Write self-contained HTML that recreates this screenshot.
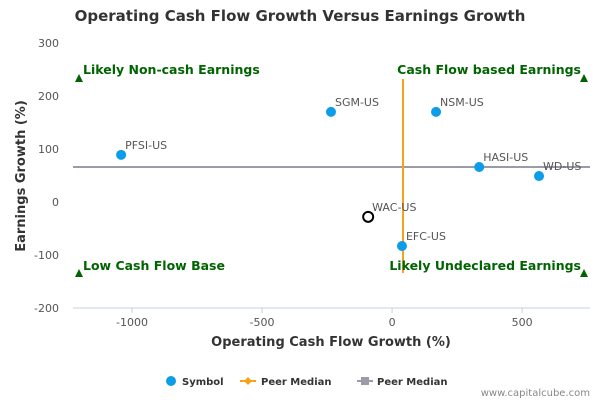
<!DOCTYPE html>
<html><head><meta charset="utf-8"><style>
body{margin:0;background:#fff;}
svg{display:block;font-family:"DejaVu Sans","Liberation Sans",sans-serif;}
</style></head><body>
<svg id="chart" width="600" height="400"></svg>
<script>
const names=["PFSI-US","SGM-US","NSM-US","HASI-US","WD-US","WAC-US","EFC-US"];
const xVals=[-1042,-235,169,335,565,-92,38];
const yVals=[89,170,170,66,49,-28,-83];
const highlight=[false,false,false,false,false,true,false];
const medianX=42;
const medianY=66;
const xTicks=[-1000,-500,0,500];
const yTicks=[300,200,100,0,-100,-200];
const NS="http://www.w3.org/2000/svg";
const svg=document.getElementById('chart');
const L=73,R=590,T=43,B=308;
const xMin=-1227,xMax=761,yMin=-200,yMax=300;
const sx=v=>L+(v-xMin)/(xMax-xMin)*(R-L);
const sy=v=>B-(v-yMin)/(yMax-yMin)*(B-T);
function mk(tag,attrs,name,text){const e=document.createElementNS(NS,tag);for(const k in attrs)e.setAttribute(k,attrs[k]);


if(text!==undefined)e.textContent=text;svg.appendChild(e);return e;}
mk('text',{x:300,y:21,'text-anchor':'middle','font-size':15,'font-weight':'bold',fill:'#333'},'chart-title','Operating Cash Flow Growth Versus Earnings Growth');
mk('line',{x1:L,y1:B,x2:R,y2:B,stroke:'#c0d0e0'},'x-axis-line');
xTicks.forEach(t=>{mk('line',{x1:sx(t),y1:B,x2:sx(t),y2:B+5,stroke:'#c0d0e0'},'x-tick');
mk('text',{x:sx(t),y:B+18,'text-anchor':'middle','font-size':11,fill:'#555'},'x-tick-label',String(t));});
yTicks.forEach(t=>{mk('text',{x:L-14,y:sy(t)+4,'text-anchor':'end','font-size':11,fill:'#555'},'y-tick-label',String(t));});
mk('text',{x:331,y:346,'text-anchor':'middle','font-size':13,'font-weight':'bold',fill:'#333'},'x-axis-title','Operating Cash Flow Growth (%)');
mk('text',{x:25,y:176,'text-anchor':'middle','font-size':13,'font-weight':'bold',fill:'#333',transform:'rotate(-90 25 176)'},'y-axis-title','Earnings Growth (%)');
mk('line',{x1:L,y1:sy(medianY),x2:R,y2:sy(medianY),stroke:'#9a9aa8','stroke-width':2},'peer-median-horizontal');
mk('line',{x1:sx(medianX),y1:79,x2:sx(medianX),y2:273,stroke:'#f7a21b','stroke-width':2},'peer-median-vertical');
[[79,78],[584,78],[79,273],[584,273]].forEach(p=>mk('polygon',{points:`${p[0]-4},${p[1]+4} ${p[0]+4},${p[1]+4} ${p[0]},${p[1]-4}`,fill:'#006400'},'quadrant-marker'));
const qs=[[83,74,'start','Likely Non-cash Earnings'],[581,74,'end','Cash Flow based Earnings'],[83,270,'start','Low Cash Flow Base'],[581,270,'end','Likely Undeclared Earnings']];
qs.forEach(q=>mk('text',{x:q[0],y:q[1],'text-anchor':q[2],'font-size':12.5,'font-weight':'bold',fill:'#006400'},'quadrant-label',q[3]));
names.forEach((n,i)=>{const cx=sx(xVals[i]),cy=sy(yVals[i]);
if(highlight[i])mk('circle',{cx,cy,r:5,fill:'#fff',stroke:'#000','stroke-width':2},'point-'+n.toLowerCase());
else mk('circle',{cx,cy,r:5,fill:'#0d9de8'},'point-'+n.toLowerCase());
mk('text',{x:cx+4,y:cy-6,'font-size':11,fill:'#555'},'point-label',n);});
// legend
mk('circle',{cx:171,cy:381,r:5,fill:'#0d9de8'},'legend-symbol-marker');
mk('text',{x:182,y:385,'font-size':10,'font-weight':'bold',fill:'#333'},'legend-symbol','Symbol');
mk('line',{x1:240,y1:381,x2:256,y2:381,stroke:'#f7a21b','stroke-width':2},'legend-peer-line');
mk('polygon',{points:'248,377 252,381 248,385 244,381',fill:'#f7a21b'},'legend-peer-marker');
mk('text',{x:261,y:385,'font-size':10,'font-weight':'bold',fill:'#333'},'legend-peer-median-1','Peer Median');
mk('line',{x1:357,y1:381,x2:373,y2:381,stroke:'#9a9aa8','stroke-width':2},'legend-peer-line-2');
mk('rect',{x:361,y:377,width:8,height:8,fill:'#9a9aa8'},'legend-peer-marker-2');
mk('text',{x:377,y:385,'font-size':10,'font-weight':'bold',fill:'#333'},'legend-peer-median-2','Peer Median');
mk('text',{x:590,y:396,'text-anchor':'end','font-size':10,fill:'#888'},'credit','www.capitalcube.com');
</script>
</body></html>
